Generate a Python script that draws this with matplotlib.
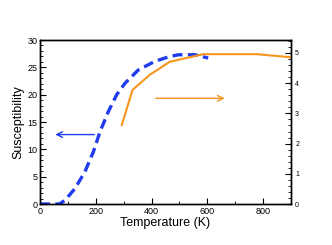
import matplotlib
matplotlib.use("Agg")
import matplotlib.pyplot as plt
from matplotlib.ticker import MultipleLocator

plt.rcParams['font.family'] = ['Liberation Sans', 'DejaVu Sans']

# susceptibility (left axis), dashed blue
temp_chi = [0, 70, 90, 125, 161, 191, 215, 245, 275, 305, 352, 412, 460, 496, 556, 603]
chi = [0, 0, 0.7, 2.8, 5.9, 9.5, 13.2, 16.9, 20.0, 22.1, 24.5, 26.1, 26.9, 27.3, 27.3, 26.7]

# right axis quantity, solid orange
temp_r = [293, 332, 394, 466, 585, 777, 899]
right_vals = [2.61, 3.78, 4.28, 4.71, 4.96, 4.96, 4.86]

blue = '#1f3cf0'
orange = '#f7941d'

fig = plt.figure(figsize=(3.32, 2.45), dpi=100)
ax = fig.add_axes([40/332, 1-204/245, 251/332, 164/245])
ax2 = ax.twinx()

ax.plot(temp_chi, chi, color=blue, lw=2.4, dashes=(3, 1.6))
ax2.plot(temp_r, right_vals, color=orange, lw=1.5)

# arrows pointing to the axis each curve belongs to
ax.annotate('', xy=(45, 12.7), xytext=(205, 12.7),
            arrowprops=dict(arrowstyle='->', color=blue, lw=1.0))
ax2.annotate('', xy=(672, 3.5), xytext=(405, 3.5),
             arrowprops=dict(arrowstyle='->', color=orange, lw=1.0))

ax.set_xlim(0, 900)
ax.set_ylim(0, 30)
ax2.set_ylim(0, 5.43)

ax.xaxis.set_major_locator(MultipleLocator(200))
ax.xaxis.set_minor_locator(MultipleLocator(100))
ax.yaxis.set_major_locator(MultipleLocator(5))
ax.yaxis.set_minor_locator(MultipleLocator(1))
ax2.yaxis.set_major_locator(MultipleLocator(1))
ax2.yaxis.set_minor_locator(MultipleLocator(0.2))

ax.tick_params(which='both', direction='in', labelsize=6.5, pad=2)
ax.tick_params(which='major', length=4)
ax.tick_params(which='minor', length=2)
ax2.tick_params(which='both', direction='in', labelsize=5, pad=3)
ax2.tick_params(which='major', length=4)
ax2.tick_params(which='minor', length=2)

for a in (ax, ax2):
    for s in a.spines.values():
        s.set_linewidth(1.0)

ax.set_xlabel('Temperature (K)', fontsize=9, labelpad=1)
ax.set_ylabel('Susceptibility', fontsize=9, labelpad=2)

fig.savefig('out.png', dpi=100)
